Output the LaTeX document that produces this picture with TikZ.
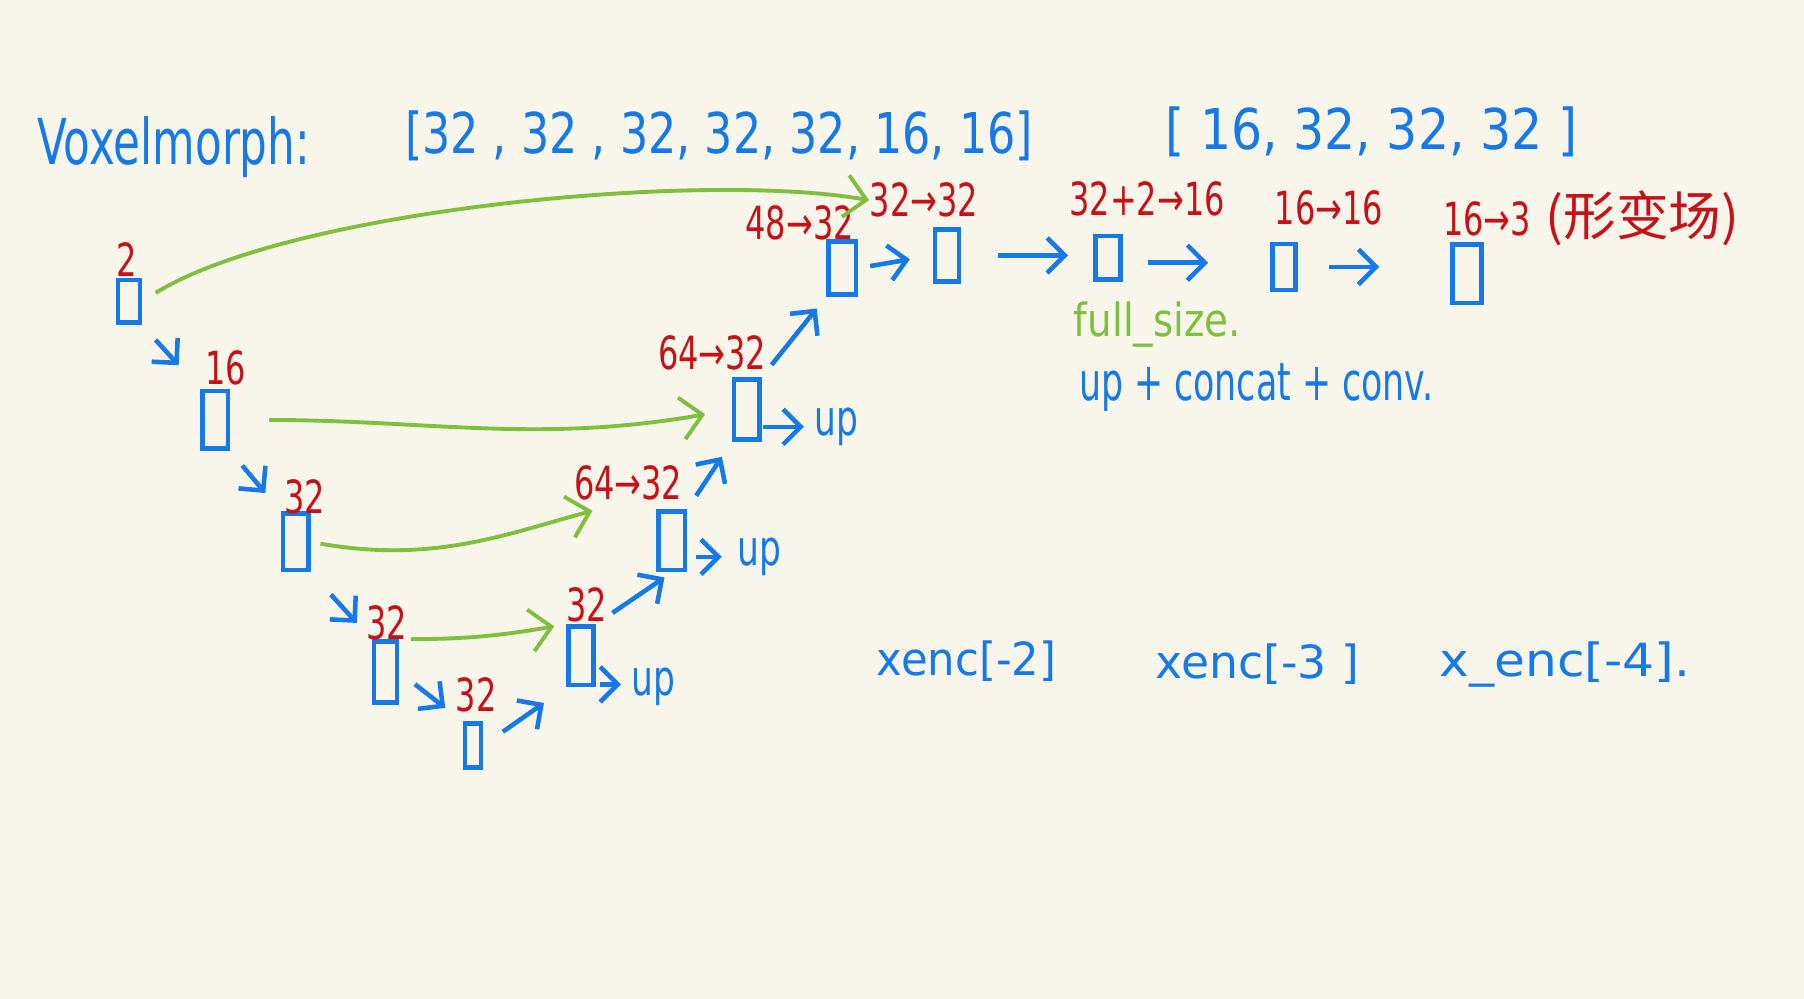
\documentclass[tikz,border=0pt]{standalone}
\usepackage{fontspec}
\setmainfont{DejaVu Sans}
\newfontfamily\cjk{Noto Sans CJK SC}
\usetikzlibrary{arrows.meta}
\definecolor{paper}{RGB}{248,246,235}
\definecolor{pen}{RGB}{22,121,233}
\definecolor{ink}{RGB}{200,16,24}
\definecolor{leaf}{RGB}{128,190,62}
\newcommand{\nar}[2][0.7]{\scalebox{#1}[1]{#2}}

\begin{document}
\begin{tikzpicture}[x=0.011505cm, y=-0.011505cm,
    blk/.style 2 args={draw=pen, line width=1.3pt, inner sep=0pt,
        minimum width=#1*0.011505cm, minimum height=#2*0.011505cm},
    lbl/.style={text=ink, inner sep=0pt, font=\fontsize{13}{13}\selectfont},
    txt/.style={text=pen, inner sep=0pt},
    flow/.style={pen, line width=1.3pt, -{Straight Barb[length=5pt,width=10pt]}},
    skip/.style={leaf, line width=1.1pt, -{Straight Barb[length=6pt,width=12pt]}}]
    \fill[paper] (0,0) rectangle (1568,868);
    \useasboundingbox (0,0) rectangle (1568,868);

    \node[txt, font=\fontsize{18}{18}\selectfont] (title) at (151,128) {\nar[0.69]{Voxelmorph:}};
    \node[txt, font=\fontsize{16}{16}\selectfont] (enclist) at (625,118) {\nar[0.79]{[32 , 32 , 32, 32, 32, 16, 16]}};
    \node[txt, font=\fontsize{16}{16}\selectfont] (declist) at (1192,115) {\nar[0.87]{[ 16, 32, 32, 32 ]}};

    \node[blk={19}{37}] (b0) at (112,262) {};
    \node[blk={22}{50}] (b1) at (187,365) {};
    \node[blk={22}{49}] (b2) at (257,471) {};
    \node[blk={20}{53}] (b3) at (335,584) {};
    \node[blk={14}{38}] (b4) at (411,648) {};
    \node[blk={22}{51}] (d1) at (505,570) {};
    \node[blk={23}{51}] (d2) at (584,470) {};
    \node[blk={22}{52}] (d3) at (649,356) {};
    \node[blk={24}{46}] (d4) at (732,233) {};
    \node[blk={21}{45}] (d5) at (823,222) {};
    \node[blk={22}{38}] (d6) at (963,224) {};
    \node[blk={20}{40}] (d7) at (1116,232) {};
    \node[blk={25}{51}] (d8) at (1275,238) {};

    \node[lbl] (l0) at (110,226) {\nar{2}};
    \node[lbl] (l1) at (196,320) {\nar{16}};
    \node[lbl] (l2) at (265,432) {\nar{32}};
    \node[lbl] (l3) at (336,541) {\nar{32}};
    \node[lbl] (l4) at (414,604) {\nar{32}};
    \node[lbl] (ld1) at (510,526) {\nar{32}};
    \node[lbl] (ld2) at (546,420) {\nar{64→32}};
    \node[lbl] (ld3) at (619,307) {\nar{64→32}};
    \node[lbl] (ld4) at (695,194) {\nar{48→32}};
    \node[lbl] (ld5) at (803,174) {\nar{32→32}};
    \node[lbl] (ld6) at (997,173) {\nar{32+2→16}};
    \node[lbl] (ld7) at (1155,181) {\nar{16→16}};
    \node[lbl] (ld8) at (1383,190) {\nar{16→3} {\cjk\fontsize{15}{15}\selectfont(形变场)}};

    \node[txt, font=\fontsize{14}{14}\selectfont] (u1) at (568,597) {\nar{up}};
    \node[txt, font=\fontsize{14}{14}\selectfont] (u2) at (660,484) {\nar{up}};
    \node[txt, font=\fontsize{14}{14}\selectfont] (u3) at (727,371) {\nar{up}};

    \node[text=leaf, inner sep=0pt, font=\fontsize{13}{13}\selectfont] (full) at (1006,282) {\nar[0.85]{full\_size.}};
    \node[txt, font=\fontsize{15}{15}\selectfont] (ucc) at (1092,337) {\nar[0.66]{up + concat + conv.}};
    \node[txt, font=\fontsize{13}{13}\selectfont] (x2) at (840,575) {\nar[0.95]{xenc[-2]}};
    \node[txt, font=\fontsize{13}{13}\selectfont] (x3) at (1093,577) {xenc[-3 ]};
    \node[txt, font=\fontsize{13}{13}\selectfont] (x4) at (1360,578) {\nar[1.1]{x\_enc[-4].}};

    \draw[flow, shorten <=0.2cm, shorten >=0.32cm] (b0.south east) -- (b1.north west);
    \draw[flow, shorten <=0.19cm, shorten >=0.24cm] (b1.south east) -- (b2.north west);
    \draw[flow, shorten <=0.3cm, shorten >=0.22cm] (b2.south east) -- (b3.north west);
    \draw[flow, shorten <=0.2cm, shorten >=0.22cm] (b3.east) -- (b4.north west);
    \draw[flow, shorten <=0.24cm, shorten >=0.27cm] (b4.east) -- (d1.south west);
    \draw[flow, shorten <=0.2cm, shorten >=0.09cm] (d1.north east) -- (d2.south);
    \draw[flow, shorten <=0.16cm, shorten >=0.18cm] (d2.north east) -- (d3.south west);
    \draw[flow, shorten <=0.16cm, shorten >=0.15cm] (d3.north east) -- (d4.south west);
    \draw[flow, shorten <=0.12cm, shorten >=0.23cm] (d4.east) -- (d5.west);
    \draw[flow, shorten <=0.37cm, shorten >=0.25cm] (d5.east) -- (d5.east -| d6.west);
    \draw[flow, shorten <=0.25cm, shorten >=0.62cm] ([yshift=-0.05cm]d6.east) -- ([yshift=-0.05cm]d6.east -| d7.west);
    \draw[flow, shorten <=0.31cm, shorten >=0.71cm] (d7.east) -- (d7.east -| d8.west);

    \draw[flow, shorten <=0.04cm, shorten >=0.1cm] ([yshift=0.03cm]d1.south east) -- ([yshift=0.03cm]d1.south east -| u1.west);
    \draw[flow, shorten <=0.09cm, shorten >=0.15cm] (d2.east |- u2) -- (u2.west);
    \draw[flow, shorten <=0.01cm, shorten >=0.1cm] (d3.east |- u3) -- (u3.west);

    \draw[skip, shorten <=0.16cm] (b0.east) to[out=32, in=170, looseness=0.6] (ld5.west);
    \draw[skip, shorten <=0.39cm, shorten >=0.27cm] (b1.east) to[out=0, in=190] (d3.west);
    \draw[skip, shorten <=0.1cm, shorten >=0.37cm] (b2.east) to[out=-10, in=195] (ld2.south);
    \draw[skip, shorten <=0.12cm, shorten >=0.12cm] (b3.north east) to[out=0, in=190] (d1.north west);
\end{tikzpicture}
\end{document}
